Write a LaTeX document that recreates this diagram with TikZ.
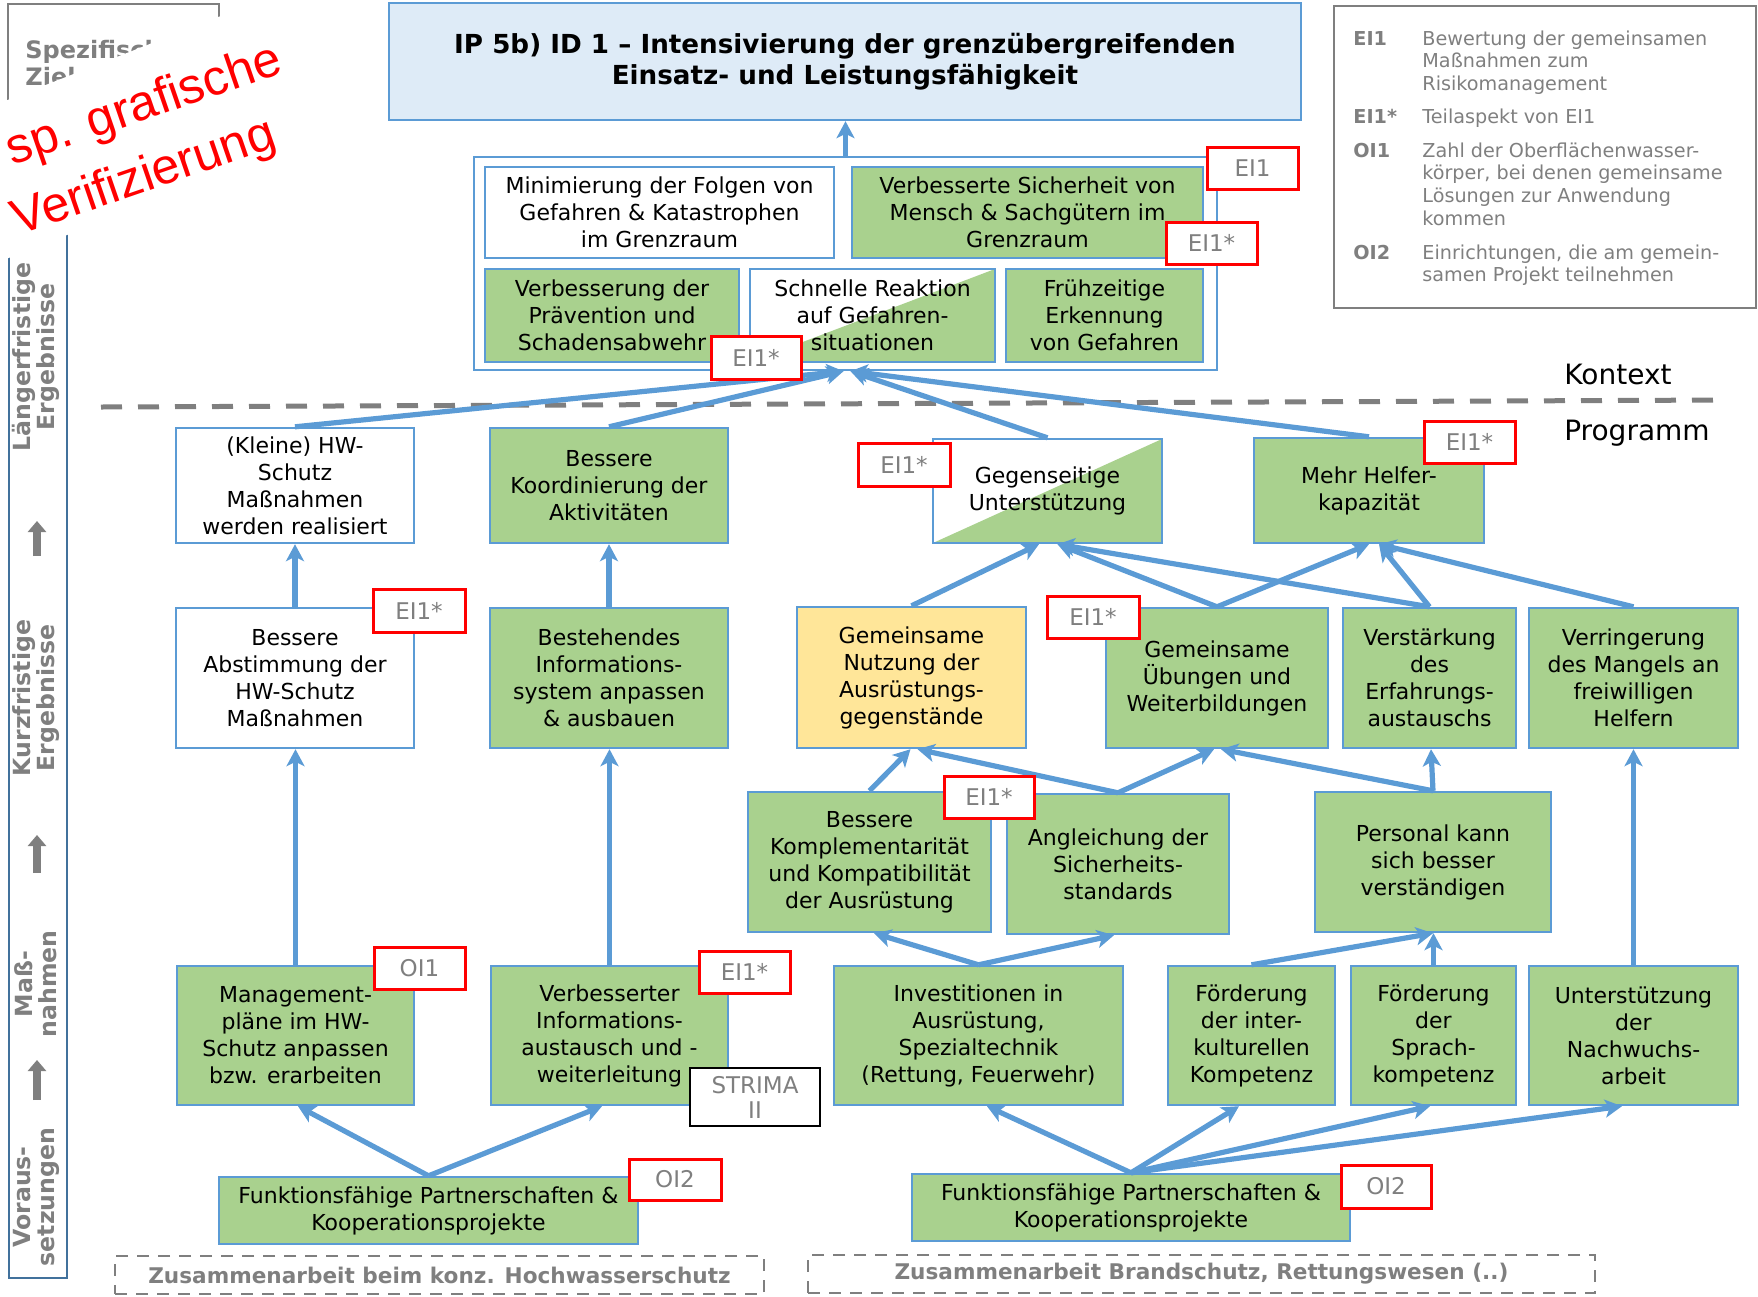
\documentclass[tikz,border=0pt]{standalone}
\usepackage{fontspec}
\setmainfont{DejaVu Sans}
\newfontfamily\redfamily{Liberation Sans}
\usetikzlibrary{arrows.meta,calc}
\definecolor{bord}{HTML}{5B9BD5}
\definecolor{grn}{HTML}{A9D18E}
\definecolor{ylw}{HTML}{FFE699}
\definecolor{ttlc}{HTML}{DEEBF7}
\definecolor{gry}{HTML}{7F7F7F}
\definecolor{barc}{HTML}{41719C}
\newcommand{\bodyf}{\fontsize{11}{13.5}\selectfont}
\newcommand{\titlef}{\fontsize{13.1}{15.7}\selectfont\bfseries}
\newcommand{\legf}{\fontsize{9.6}{11.35}\selectfont}
\newcommand{\tagf}{\fontsize{11.5}{12.5}\selectfont}
\newcommand{\barf}{\fontsize{11.8}{12}\selectfont\bfseries}
\newcommand{\dboxf}{\fontsize{10.8}{13}\selectfont\bfseries}
\newcommand{\redf}{\redfamily\fontsize{25}{30}\selectfont}
\newcommand{\spezf}{\fontsize{12}{13.5}\selectfont\bfseries}
% style, x1, y1, x2, y2, name, text
\newcommand{\mkbox}[7]{\node[#1, minimum width={(#4-#2)*0.5pt}, minimum height={(#5-#3)*0.5pt}] (#6) at ({(#2+#4)/2},{(#3+#5)/2}) {#7};}
\tikzset{
  box/.style={draw=bord, line width=1.2pt, inner sep=0pt, align=center, font=\bodyf, text=black},
  gbox/.style={box, fill=grn},
  wbox/.style={box, fill=white},
  ybox/.style={box, fill=ylw},
  splitbox/.style={box, fill=white, path picture={\fill[grn] (path picture bounding box.north east) -- (path picture bounding box.south east) -- (path picture bounding box.south west) -- cycle;}},
  tagbox/.style={draw=red, line width=1.5pt, fill=white, inner sep=0pt, font=\tagf, text=gry, align=center},
  strimabox/.style={draw=black, line width=1.3pt, fill=white, inner sep=0pt, font=\tagf, text=gry, align=center},
  arr/.style={draw=bord, line width=2.6pt, -{Stealth[length=8.5pt,width=9pt,inset=2.2pt]}},
  dbox/.style={draw=gry, dash pattern=on 6pt off 4.5pt, line width=1.2pt, inner sep=0pt, font=\dboxf, text=gry},
  blockarr/.style={draw=gry, line width=4pt, -{Triangle[width=9pt,length=5.5pt]}},
  barlabel/.style={rotate=90, align=center, font=\barf, text=gry, inner sep=0pt},
  plainframe/.style={draw=gry, line width=1.3pt, inner sep=0pt}
}
\begin{document}
\begin{tikzpicture}[x=0.5pt,y=-0.5pt]
\useasboundingbox (0,0) rectangle (1758,1297);
\clip (0,0) rectangle (1758,1297);

% top-left box (partly covered)
\mkbox{plainframe}{8}{4}{219}{150}{spez}{}
\node[anchor=north west, align=left, font=\spezf, text=gry, inner sep=0pt] (speztxt) at (25,40) {Spezifische\\Ziele};

% left bar
\coordinate (barTL) at (9,120);
\coordinate (barBL) at (9,1278);
\coordinate (barBR) at (67,1278);
\coordinate (barTR) at (67,120);
\draw[barc, line width=1.1pt] (barTL) -- (barBL) -- (barBR) -- (barTR);
\node[barlabel] (lbl1) at (36,357) {Längerfristige\\Ergebnisse};
\node[barlabel] (lbl2) at (36,698) {Kurzfristige\\Ergebnisse};
\node[barlabel] (lbl3) at (36,984) {Maß-\\nahmen};
\node[barlabel] (lbl4) at (36,1197) {Voraus-\\setzungen};
\coordinate (ba1s) at (37,556); \coordinate (ba1e) at (37,521);
\coordinate (ba2s) at (37,873); \coordinate (ba2e) at (37,835);
\coordinate (ba3s) at (37,1100); \coordinate (ba3e) at (37,1060);
\draw[blockarr] (ba1s) -- (ba1e);
\draw[blockarr] (ba2s) -- (ba2e);
\draw[blockarr] (ba3s) -- (ba3e);

% title
\mkbox{box, fill=ttlc, font=\titlef}{389}{3}{1301}{120}{ttl}{IP 5b) ID 1 -- Intensivierung der grenzübergreifenden\\Einsatz- und Leistungsfähigkeit}

% legend
\mkbox{plainframe}{1334}{6}{1756}{308}{leg}{}
\node[anchor=north west, inner sep=0pt, text=gry, font=\legf] (legtxt) at (1353,29) {\begin{tabular}{@{}p{34.5pt}@{}l@{}}
\textbf{EI1} & Bewertung der gemeinsamen\\
 & Maßnahmen zum\\
 & Risikomanagement\\[5.3pt]
\textbf{EI1*} & Teilaspekt von EI1\\[5.3pt]
\textbf{OI1} & Zahl der Oberflächenwasser-\\
 & körper, bei denen gemeinsame\\
 & Lösungen zur Anwendung\\
 & kommen\\[5.6pt]
\textbf{OI2} & Einrichtungen, die am gemein-\\
 & samen Projekt teilnehmen
\end{tabular}};

% context container
\mkbox{box}{474}{157}{1217}{370}{cont}{}
\mkbox{wbox}{485}{167}{834}{258}{mini}{Minimierung der Folgen von\\Gefahren \& Katastrophen\\im Grenzraum}
\mkbox{gbox}{852}{167}{1203}{258}{sich}{Verbesserte Sicherheit von\\Mensch \& Sachgütern im\\Grenzraum}
\mkbox{gbox}{485}{269}{739}{362}{praev}{Verbesserung der\\Prävention und\\Schadensabwehr}
\mkbox{splitbox}{750}{269}{995}{362}{schnell}{Schnelle Reaktion\\auf Gefahren-\\situationen}
\mkbox{gbox}{1006}{269}{1203}{362}{frueh}{Frühzeitige\\Erkennung\\von Gefahren}

\node[font=\fontsize{14}{16}\selectfont] (kontext) at (1618,374) {Kontext};
\node[font=\fontsize{14}{16}\selectfont] (programm) at (1637,433) {Programm};

% dashed separator
\coordinate (dl1) at (101,407);
\coordinate (dl2) at (1727,400);
\draw[gry, line width=2.5pt, dash pattern=on 10.5pt off 8pt] (dl1) -- (dl2);

% long-term program results
\mkbox{wbox}{176}{428}{414}{543}{klein}{(Kleine) HW-\\Schutz\\Maßnahmen\\werden realisiert}
\mkbox{gbox}{490}{428}{728}{543}{koord}{Bessere\\Koordinierung der\\Aktivitäten}
\mkbox{splitbox}{933}{439}{1162}{543}{gegen}{Gegenseitige\\Unterstützung}
\mkbox{gbox}{1254}{438}{1484}{543}{helfer}{Mehr Helfer-\\kapazität}

% short-term results
\mkbox{wbox}{176}{608}{414}{748}{abst}{Bessere\\Abstimmung der\\HW-Schutz\\Maßnahmen}
\mkbox{gbox}{490}{608}{728}{748}{best}{Bestehendes\\Informations-\\system anpassen\\\& ausbauen}
\mkbox{ybox}{797}{607}{1026}{748}{nutz}{Gemeinsame\\Nutzung der\\Ausrüstungs-\\gegenstände}
\mkbox{gbox}{1106}{608}{1328}{748}{ueb}{Gemeinsame\\Übungen und\\Weiterbildungen}
\mkbox{gbox}{1343}{608}{1516}{748}{verst}{Verstärkung\\des\\Erfahrungs-\\austauschs}
\mkbox{gbox}{1529}{608}{1738}{748}{verr}{Verringerung\\des Mangels an\\freiwilligen\\Helfern}

% intermediate
\mkbox{gbox}{748}{792}{991}{932}{kompl}{Bessere\\Komplementarität\\und Kompatibilität\\der Ausrüstung}
\mkbox{gbox}{1007}{794}{1229}{934}{angl}{Angleichung der\\Sicherheits-\\standards}
\mkbox{gbox}{1315}{792}{1551}{932}{pers}{Personal kann\\sich besser\\verständigen}

% measures
\mkbox{gbox}{177}{966}{414}{1105}{mgmt}{Management-\\pläne im HW-\\Schutz anpassen\\bzw. erarbeiten}
\mkbox{gbox}{491}{966}{728}{1105}{vinf}{Verbesserter\\Informations-\\austausch und -\\weiterleitung}
\mkbox{gbox}{834}{966}{1123}{1105}{inv}{Investitionen in\\Ausrüstung,\\Spezialtechnik\\(Rettung, Feuerwehr)}
\mkbox{gbox}{1168}{966}{1335}{1105}{fik}{Förderung\\der inter-\\kulturellen\\Kompetenz}
\mkbox{gbox}{1351}{966}{1516}{1105}{fsk}{Förderung\\der\\Sprach-\\kompetenz}
\mkbox{gbox}{1529}{966}{1738}{1105}{unt}{Unterstützung\\der\\Nachwuchs-\\arbeit}

% prerequisites
\mkbox{gbox}{219}{1177}{638}{1244}{funk1}{Funktionsfähige Partnerschaften \&\\Kooperationsprojekte}
\mkbox{gbox}{912}{1174}{1350}{1241}{funk2}{Funktionsfähige Partnerschaften \&\\Kooperationsprojekte}

% dashed bottom boxes
\mkbox{dbox}{115}{1256}{764}{1294}{zus1}{Zusammenarbeit beim konz. Hochwasserschutz}
\mkbox{dbox}{808}{1255}{1595}{1293}{zus2}{Zusammenarbeit Brandschutz, Rettungswesen (..)}

% connectors
\draw[arr] (cont.north) -- (cont.north |- ttl.south);
\draw[arr] (klein.north) -- ([xshift=-1pt]cont.south);
\draw[arr] (koord.north) -- ([xshift=-1pt]cont.south);
\draw[arr] (gegen.north) -- ([xshift=2.5pt]cont.south);
\draw[arr] (helfer.north) -- ([xshift=2.5pt]cont.south);
\draw[arr] (abst.north) -- (abst.north |- klein.south);
\draw[arr] (best.north) -- (best.north |- koord.south);
\draw[arr] (nutz.north) -- ([xshift=-4.25pt]gegen.south);
\draw[arr] (ueb.north) -- ([xshift=5pt]gegen.south);
\draw[arr] (ueb.north) -- (helfer.south);
\draw[arr] (verst.north) -- ([xshift=5pt]gegen.south);
\draw[arr] (verst.north) -- ([xshift=5pt]helfer.south);
\draw[arr] (verr.north) -- ([xshift=5pt]helfer.south);
\draw[arr] (kompl.north) -- ([xshift=-0.5pt]nutz.south);
\draw[arr] (angl.north) -- ([xshift=3pt]nutz.south);
\draw[arr] (angl.north) -- ([xshift=-1.5pt]ueb.south);
\draw[arr] (pers.north) -- ([xshift=2pt]ueb.south);
\draw[arr] (pers.north) -- ([xshift=0.75pt]verst.south);
\draw[arr] (mgmt.north) -- (mgmt.north |- abst.south);
\draw[arr] (vinf.north) -- (vinf.north |- best.south);
\draw[arr] (inv.north) -- ([xshift=2.25pt]kompl.south);
\draw[arr] (inv.north) -- ([xshift=-2pt]angl.south);
\draw[arr] (fik.north) -- (pers.south);
\draw[arr] (fsk.north) -- (fsk.north |- pers.south);
\draw[arr] (unt.north) -- (unt.north |- verr.south);
\draw[arr] (funk1.north) -- ([xshift=1.25pt]mgmt.south);
\draw[arr] (funk1.north) -- ([xshift=-3.75pt]vinf.south);
\draw[arr] (funk2.north) -- ([xshift=4.25pt]inv.south);
\draw[arr] (funk2.north) -- ([xshift=-6.25pt]fik.south);
\draw[arr] (funk2.north) -- ([xshift=-1.75pt]fsk.south);
\draw[arr] (funk2.north) -- ([xshift=-5.75pt]unt.south);

% indicator tags
\mkbox{tagbox}{1207}{147}{1298}{189}{t1}{EI1}
\mkbox{tagbox}{1166}{222}{1257}{264}{t2}{EI1*}
\mkbox{tagbox}{711}{336}{801}{379}{t3}{EI1*}
\mkbox{tagbox}{858}{443}{950}{486}{t4}{EI1*}
\mkbox{tagbox}{1424}{421}{1515}{463}{t5}{EI1*}
\mkbox{tagbox}{373}{589}{465}{632}{t6}{EI1*}
\mkbox{tagbox}{1047}{596}{1139}{638}{t7}{EI1*}
\mkbox{tagbox}{944}{776}{1034}{818}{t8}{EI1*}
\mkbox{tagbox}{374}{947}{465}{989}{t9}{OI1}
\mkbox{tagbox}{699}{951}{790}{993}{t10}{EI1*}
\mkbox{strimabox}{690}{1068}{820}{1126}{strima}{STRIMA\\II}
\mkbox{tagbox}{629}{1159}{721}{1200}{t11}{OI2}
\mkbox{tagbox}{1341}{1165}{1431}{1208}{t12}{OI2}

% stamp
\node[fill=white, rotate=21.5, minimum width=205pt, minimum height=73.7pt, inner sep=0pt] (cover) at (113.4,137.5) {};
\node[anchor=base west, rotate=19, font=\redf, text=red, inner sep=0pt] (red1) at (12,166) {sp. grafische};
\node[anchor=base west, rotate=19, font=\redf, text=red, inner sep=0pt] (red2) at (18,236) {Verifizierung};
\end{tikzpicture}
\end{document}
